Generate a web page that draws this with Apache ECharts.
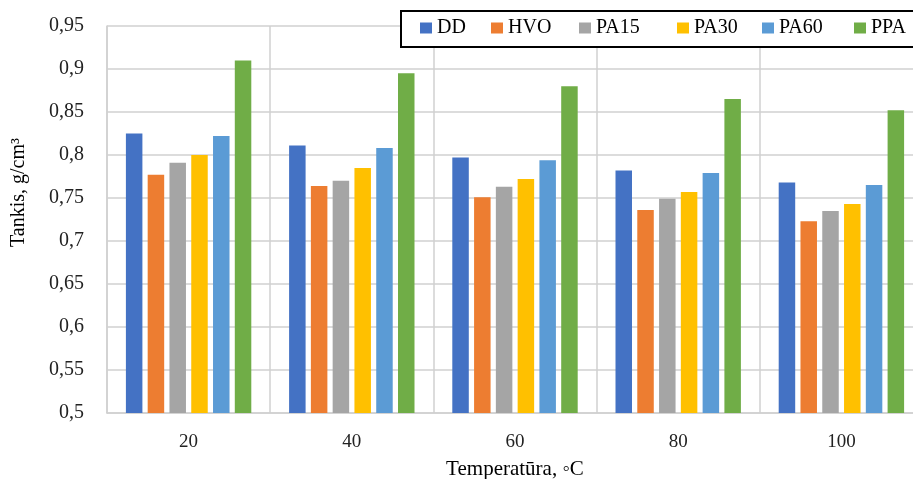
<!DOCTYPE html>
<html><head><meta charset="utf-8">
<script src="https://cdn.jsdelivr.net/npm/echarts@6/dist/echarts.min.js"></script>
<style>html,body{margin:0;padding:0;background:#fff}#c{width:913px;height:479px}</style>
</head><body><div id="c"></div>
<script>
const categories = ['20', '40', '60', '80', '100'];
const seriesNames = ['DD', 'HVO', 'PA15', 'PA30', 'PA60', 'PPA'];
const DD   = [0.825, 0.811, 0.797, 0.782, 0.768];
const HVO  = [0.777, 0.764, 0.751, 0.736, 0.723];
const PA15 = [0.791, 0.770, 0.763, 0.749, 0.735];
const PA30 = [0.800, 0.785, 0.772, 0.757, 0.743];
const PA60 = [0.822, 0.808, 0.794, 0.779, 0.765];
const PPA  = [0.910, 0.895, 0.880, 0.865, 0.852];
const yTicks = { min: 0.5, max: 0.95, interval: 0.05 };
const colors = ['#4472C4', '#ED7D31', '#A5A5A5', '#FFC000', '#5B9BD5', '#70AD47'];
const values = [DD, HVO, PA15, PA30, PA60, PPA];

const FONT = "'Liberation Serif', 'Times New Roman', serif";
const legendLeft = [420, 491, 579, 677, 762, 854];

const legends = seriesNames.map((n, i) => ({
  data: [n],
  left: legendLeft[i], top: 18,
  padding: 0,
  itemWidth: 12, itemHeight: 11, itemGap: 0,
  icon: 'rect',
  z: 12,
  selectedMode: false,
  textStyle: { fontFamily: FONT, fontSize: 20, color: '#000' }
}));

const chart = echarts.init(document.getElementById('c'), null, { renderer: 'canvas' });
chart.setOption({
  animation: false,
  backgroundColor: '#fff',
  color: colors,
  grid: { left: 107, top: 26, width: 816, height: 387, containLabel: false, outerBoundsMode: 'none' },
  legend: legends,
  graphic: [{
    type: 'rect', left: 400, top: 10, z: 11,
    shape: { width: 530, height: 36 },
    style: { fill: '#fff', stroke: '#000', lineWidth: 2 }
  }],
  xAxis: {
    type: 'category',
    data: categories,
    name: 'Temperatūra, ◦C',
    nameLocation: 'middle',
    nameGap: 46,
    nameTextStyle: { fontFamily: FONT, fontSize: 21, color: '#000' },
    axisLine: { show: true, lineStyle: { color: '#d0d0d0', width: 1.5 } },
    axisTick: { show: false },
    axisLabel: { fontFamily: FONT, fontSize: 19, color: '#222', margin: 20 },
    splitLine: { show: true, lineStyle: { color: '#d0d0d0', width: 1.5 } }
  },
  yAxis: {
    type: 'value',
    min: yTicks.min, max: yTicks.max, interval: yTicks.interval,
    name: 'Tankis, g/cm³',
    nameLocation: 'middle',
    nameGap: 78,
    nameTextStyle: { fontFamily: FONT, fontSize: 20, color: '#000', padding: [0, 0, 0, 54] },
    axisLine: { show: true, lineStyle: { color: '#d0d0d0', width: 1.5 } },
    axisTick: { show: false },
    axisLabel: {
      fontFamily: FONT, fontSize: 20, color: '#222', margin: 23,
      formatter: v => String(+v.toFixed(2)).replace('.', ',')
    },
    splitLine: { show: true, lineStyle: { color: '#d0d0d0', width: 1.5 } }
  },
  series: seriesNames.map((n, i) => ({
    name: n,
    type: 'bar',
    data: values[i],
    barWidth: 16.5,
    barGap: '32%',
    itemStyle: { color: colors[i] }
  }))
});
</script>
</body></html>
